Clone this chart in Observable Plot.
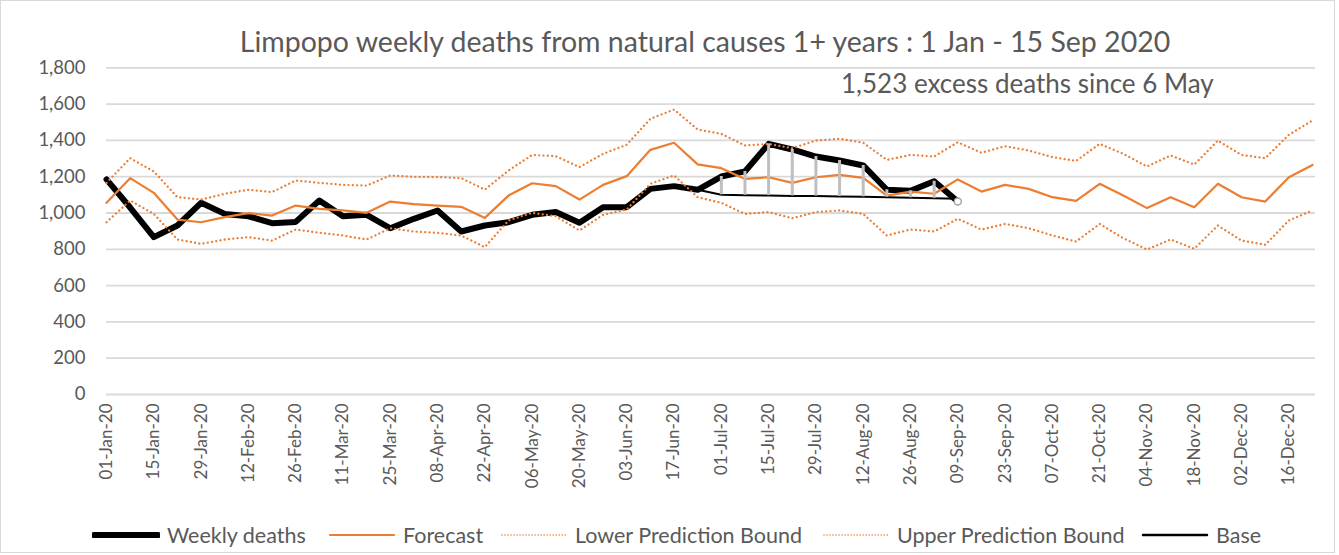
<!DOCTYPE html>
<html>
<head>
<meta charset="utf-8">
<script src="https://cdn.jsdelivr.net/npm/d3@7"></script>
<script src="https://cdn.jsdelivr.net/npm/@observablehq/plot@0.6"></script>
<style>
  body { margin: 0; background: #fff; font-family: Lato, "Open Sans", sans-serif; }
  #wrap { position: relative; width: 1339px; height: 555px; overflow: hidden; background: #fff; }
  #frame { position: absolute; left: 0; top: 0; width: 1333px; height: 551px; border: 1px solid #d9d9d9; }
  #title { position: absolute; left: 0; width: 1410px; top: 24px; text-align: center; font-size: 28.5px; line-height: 34px; color: #595959; white-space: nowrap; }
  #note { position: absolute; left: 841px; top: 67px; font-size: 26px; line-height: 32px; color: #595959; white-space: nowrap; }
  #chart { position: absolute; left: 0; top: 0; }
  .leg { position: absolute; top: 522px; height: 26px; display: flex; align-items: center; font-size: 21.5px; color: #595959; white-space: nowrap; }
  .leg svg { margin-right: 7px; }
</style>
</head>
<body>
<div id="wrap">
  <div id="frame"></div>
  <div id="chart"></div>
  <div id="title">Limpopo weekly deaths from natural causes 1+ years : 1 Jan - 15 Sep 2020</div>
  <div id="note">1,523 excess deaths since 6 May</div>
  <div id="legend"></div>
</div>
<script>
// ---- Data ----
const weeks = [
  "01-Jan-20","08-Jan-20","15-Jan-20","22-Jan-20","29-Jan-20",
  "05-Feb-20","12-Feb-20","19-Feb-20","26-Feb-20",
  "04-Mar-20","11-Mar-20","18-Mar-20","25-Mar-20",
  "01-Apr-20","08-Apr-20","15-Apr-20","22-Apr-20","29-Apr-20",
  "06-May-20","13-May-20","20-May-20","27-May-20",
  "03-Jun-20","10-Jun-20","17-Jun-20","24-Jun-20",
  "01-Jul-20","08-Jul-20","15-Jul-20","22-Jul-20","29-Jul-20",
  "05-Aug-20","12-Aug-20","19-Aug-20","26-Aug-20",
  "02-Sep-20","09-Sep-20","16-Sep-20","23-Sep-20","30-Sep-20",
  "07-Oct-20","14-Oct-20","21-Oct-20","28-Oct-20",
  "04-Nov-20","11-Nov-20","18-Nov-20","25-Nov-20",
  "02-Dec-20","09-Dec-20","16-Dec-20","23-Dec-20"
];
const weeklyDeaths = [
  1185,1030,867,931,1056,995,982,944,951,1069,982,990,916,968,1014,898,931,949,
  990,1005,946,1032,1032,1133,1148,1128,1201,1229,1381,1350,1311,1289,1262,1128,
  1122,1175,1063
];
const forecast = [
  1056,1192,1111,964,949,977,999,986,1041,1023,1014,1001,1063,1049,1041,1034,973,1096,
  1164,1148,1074,1155,1203,1348,1387,1268,1247,1188,1197,1166,1197,1210,1194,1096,
  1118,1106,1185,1118,1155,1133,1087,1067,1161,1096,1027,1087,1032,1161,1087,1063,1197,1265
];
const lowerBound = [
  949,1069,995,854,830,854,867,848,909,891,876,854,916,898,891,876,812,959,
  1001,982,904,990,1019,1161,1207,1087,1056,995,1005,971,1005,1014,995,876,
  909,898,968,909,940,916,876,843,940,861,799,854,803,931,848,825,959,1014
];
const upperBound = [
  1166,1302,1229,1087,1074,1106,1128,1115,1179,1166,1155,1151,1207,1199,1198,1192,1129,1234,
  1320,1313,1253,1326,1376,1519,1570,1460,1436,1372,1381,1357,1399,1409,1387,1293,
  1320,1311,1390,1332,1368,1344,1308,1287,1381,1326,1256,1317,1267,1399,1320,1302,1431,1510
];
// Base line from 24-Jun-20 (index 25) to 09-Sep-20 (index 36)
const baseStart = 25;
const base = [1128,1100,1098,1096,1094,1093,1091,1089,1087,1084,1081,1078];
const yTicks = [0,200,400,600,800,1000,1200,1400,1600,1800];
const xTickLabels = weeks.filter((d, i) => i % 2 === 0);

// ---- Build table ----
const rows = weeks.map((w, i) => ({
  w,
  deaths: i < weeklyDeaths.length ? weeklyDeaths[i] : null,
  forecast: forecast[i],
  lower: lowerBound[i],
  upper: upperBound[i],
  base: (i >= baseStart && i < baseStart + base.length) ? base[i - baseStart] : null
}));
const deathRows = rows.filter(r => r.deaths != null);
const baseRows = rows.filter(r => r.base != null);
const dropRows = rows.filter(r => r.base != null && r.deaths != null);
const lastDeath = [deathRows[deathRows.length - 1]];

const H = 515;
const dotted = { stroke: "#ed7d31", strokeWidth: 2.3, strokeDasharray: "0.01,4.3", strokeLinecap: "round" };
const chart = Plot.plot({
  width: 1339,
  height: H,
  marginLeft: 106,
  marginRight: 27,
  marginTop: 67.3,
  marginBottom: H - 394,
  style: { fontFamily: "Lato, 'Open Sans', sans-serif", color: "#595959", background: "transparent" },
  x: { type: "point", domain: weeks, padding: 0 },
  y: { domain: [0, 1800] },
  marks: [
    Plot.ruleY(yTicks, { stroke: "#d9d9d9", strokeWidth: 1.8, insetRight: -3 }),
    Plot.axisY({ ticks: yTicks, tickSize: 0, tickPadding: 21, tickFormat: d3.format(","), fontSize: 18.5 }),
    Plot.axisX({ ticks: xTickLabels, tickSize: 0, tickPadding: 9, tickRotate: -90, fontSize: 17, label: null }),
    Plot.line(deathRows, { x: "w", y: "deaths", stroke: "#000", strokeWidth: 6, strokeLinejoin: "round", strokeLinecap: "round" }),
    Plot.line(rows, { x: "w", y: "forecast", stroke: "#ed7d31", strokeWidth: 2.2, strokeLinejoin: "round" }),
    Plot.line(rows, { x: "w", y: "lower", ...dotted }),
    Plot.line(rows, { x: "w", y: "upper", ...dotted }),
    Plot.line(baseRows, { x: "w", y: "base", stroke: "#000", strokeWidth: 2 }),
    Plot.ruleX(dropRows, { x: "w", y1: "base", y2: "deaths", stroke: "#bfbfbf", strokeWidth: 3 }),
    Plot.dot(lastDeath, { x: "w", y: "deaths", r: 3.5, fill: "#fff", stroke: "#a6a6a6", strokeWidth: 1.5 })
  ]
});
document.getElementById("chart").appendChild(chart);

// ---- Legend ----
const legendItems = [
  { label: "Weekly deaths", left: 92, stroke: "#000", width: 6, dash: null },
  { label: "Forecast", left: 328, stroke: "#ed7d31", width: 2.2, dash: null },
  { label: "Lower Prediction Bound", left: 500, stroke: "#ed7d31", width: 1.6, dash: "0.01,3" },
  { label: "Upper Prediction Bound", left: 822, stroke: "#ed7d31", width: 1.6, dash: "0.01,3" },
  { label: "Base", left: 1141, stroke: "#000", width: 2.5, dash: null }
];
const legend = document.getElementById("legend");
for (const it of legendItems) {
  const div = document.createElement("div");
  div.className = "leg";
  div.style.left = it.left + "px";
  div.innerHTML = `<svg width="68" height="12"><line x1="2" x2="66" y1="6" y2="6" stroke="${it.stroke}" stroke-width="${it.width}" stroke-linecap="round" ${it.dash ? `stroke-dasharray="${it.dash}"` : ''}/></svg><span>${it.label}</span>`;
  legend.appendChild(div);
}
</script>
</body>
</html>
